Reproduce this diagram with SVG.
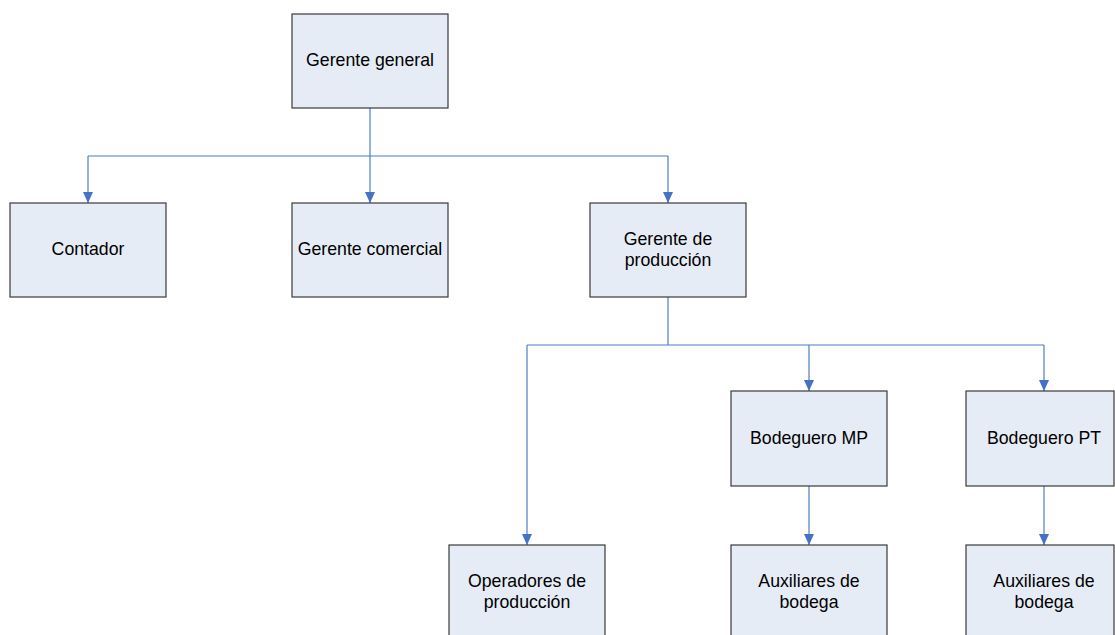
<svg xmlns="http://www.w3.org/2000/svg" width="1115" height="635" viewBox="0 0 1115 635">
<style>
.box{fill:#E6ECF6;stroke:#3a3a3a;stroke-width:1.2}
.t{font-family:"Liberation Sans",Arial,sans-serif;font-size:17.7px;fill:#000;text-anchor:middle}
.c{fill:none;stroke:#4A7EC4;stroke-width:1.2}
</style>
<defs>
<marker id="ah" markerWidth="11" markerHeight="10" refX="11" refY="5" orient="auto" markerUnits="userSpaceOnUse" viewBox="0 0 11 10">
<path d="M0,0 L11,5 L0,10 Z" fill="#4472C4"/>
</marker>
</defs>
<rect width="1115" height="635" fill="#fff"/>
<g id="connectors">
<path class="c" d="M370,108 V156"/>
<path class="c" d="M88,156 H668"/>
<path class="c" d="M88,156 V203" marker-end="url(#ah)"/>
<path class="c" d="M370,156 V203" marker-end="url(#ah)"/>
<path class="c" d="M668,156 V203" marker-end="url(#ah)"/>
<path class="c" d="M668,297 V345"/>
<path class="c" d="M527,345 H1044"/>
<path class="c" d="M527,345 V545" marker-end="url(#ah)"/>
<path class="c" d="M809,345 V391" marker-end="url(#ah)"/>
<path class="c" d="M1044,345 V391" marker-end="url(#ah)"/>
<path class="c" d="M809,486 V545" marker-end="url(#ah)"/>
<path class="c" d="M1044,486 V545" marker-end="url(#ah)"/>
</g>
<g id="gerente-general"><rect class="box" x="292" y="14" width="156" height="94"/><text class="t" x="370" y="66">Gerente general</text></g>
<g id="contador"><rect class="box" x="10" y="203" width="156" height="94"/><text class="t" x="88" y="255">Contador</text></g>
<g id="gerente-comercial"><rect class="box" x="292" y="203" width="156" height="94"/><text class="t" x="370" y="255">Gerente comercial</text></g>
<g id="gerente-produccion"><rect class="box" x="590" y="203" width="156" height="94"/><text class="t" x="668" y="245">Gerente de</text><text class="t" x="668" y="266">producción</text></g>
<g id="bodeguero-mp"><rect class="box" x="731" y="391" width="156" height="95"/><text class="t" x="809" y="444">Bodeguero MP</text></g>
<g id="bodeguero-pt"><rect class="box" x="966" y="391" width="148" height="95"/><text class="t" x="1044" y="444">Bodeguero PT</text></g>
<g id="operadores"><rect class="box" x="449" y="545" width="156" height="94"/><text class="t" x="527" y="587">Operadores de</text><text class="t" x="527" y="608">producción</text></g>
<g id="auxiliares-mp"><rect class="box" x="731" y="545" width="156" height="94"/><text class="t" x="809" y="587">Auxiliares de</text><text class="t" x="809" y="608">bodega</text></g>
<g id="auxiliares-pt"><rect class="box" x="966" y="545" width="148" height="94"/><text class="t" x="1044" y="587">Auxiliares de</text><text class="t" x="1044" y="608">bodega</text></g>
</svg>
